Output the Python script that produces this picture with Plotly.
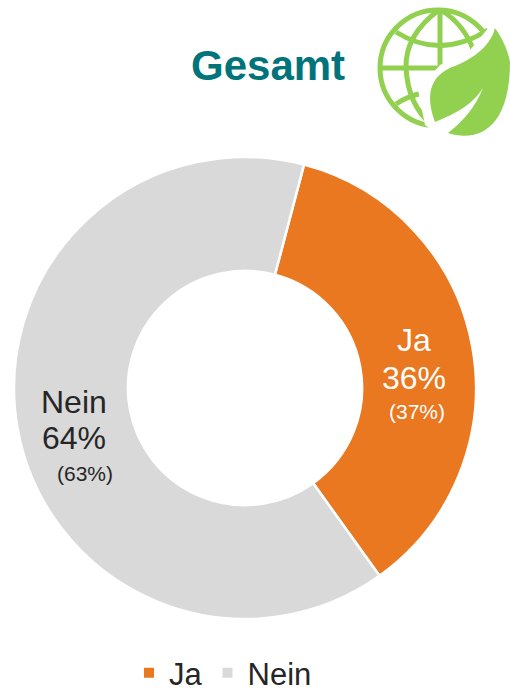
import plotly.graph_objects as go

W, H = 510, 691
categories = ["Ja", "Nein"]
values = [36, 64]
prior_labels = ["(37%)", "(63%)"]
colors = ["#E97820", "#D9D9D9"]
title_text = "Gesamt"
FONT = "Liberation Sans, Arial, sans-serif"
GREEN = "#92D050"


def px(x):
    return x / W


def py(y):
    return 1 - y / H


def path(cmds):
    out = []
    for c in cmds:
        if isinstance(c, str):
            out.append(c)
        else:
            out.append(f"{px(c[0]):.5f},{py(c[1]):.5f}")
    return " ".join(out)


fig = go.Figure()
cx, cy, r = 245, 388, 231
fig.add_trace(go.Pie(
    labels=categories, values=values, sort=False, direction="clockwise",
    rotation=14.8, hole=0.507,
    marker=dict(colors=colors, line=dict(color="#FFFFFF", width=2.5)),
    textinfo="none", hoverinfo="label+percent",
    domain=dict(x=[px(cx - r), px(cx + r)], y=[py(cy + r), py(cy - r)]),
))

shapes = []
GL = dict(color=GREEN, width=5)
# globe outline and grid
shapes.append(dict(type="circle", xref="paper", yref="paper", x0=px(380), x1=px(496), y0=py(126), y1=py(10),
                   line=GL, fillcolor="rgba(0,0,0,0)"))
for cmds in [
    ["M", (440, 10), "L", (440, 68), "L", (380, 68)],
    ["M", (439, 10), "Q", (405, 35), (406, 68), "Q", (408, 105), (432, 125)],
    ["M", (441, 10), "Q", (465, 25), (474, 52)],
    ["M", (396, 32), "Q", (440, 60), (488, 30)],
    ["M", (396, 104), "Q", (408, 96), (423, 93)],
]:
    shapes.append(dict(type="path", xref="paper", yref="paper", path=path(cmds), line=GL))
# white gap around the leaf, then leaf body, then white vein
leaf = ["M", (495, 28), "C", (490, 48), (470, 60), (455, 66), "C", (432, 74), (424, 92), (435, 122),
        "C", (465, 110), (475, 100), (483, 88), "C", (475, 108), (462, 122), (448, 133),
        "C", (475, 142), (510, 132), (510, 62), "C", (508, 50), (502, 38), (495, 28), "Z"]
halo = ["M", (495, 20), "L", (510, 60), "L", (510, 137), "L", (440, 137), "L", (425, 125), "L", (418, 90),
        "L", (440, 65), "L", (470, 50), "Z"]
shapes.append(dict(type="path", xref="paper", yref="paper", path=path(halo), fillcolor="#FFFFFF",
                   line=dict(width=0)))
shapes.append(dict(type="path", xref="paper", yref="paper", path=path(leaf), fillcolor=GREEN,
                   line=dict(width=0)))


def label(x, y, text, size, color):
    return dict(x=px(x), y=py(y), xref="paper", yref="paper", text=text, showarrow=False,
                font=dict(family=FONT, size=size, color=color), xanchor="center", yanchor="middle")


annotations = [
    dict(x=px(267.5), y=py(65), xref="paper", yref="paper", text=f"<b>{title_text}</b>", showarrow=False,
         font=dict(family=FONT, size=42, color="#00747A"), xanchor="center", yanchor="middle"),
    label(414, 340, categories[0], 32, "#FFFFFF"),
    label(414, 378, f"{values[0]}%", 32, "#FFFFFF"),
    label(417, 411, prior_labels[0], 21, "#FFFFFF"),
    label(74, 402, categories[1], 32, "#262626"),
    label(74, 438, f"{values[1]}%", 32, "#262626"),
    label(85, 473, prior_labels[1], 21, "#262626"),
]

fig.update_layout(
    width=W, height=H, margin=dict(l=0, r=0, t=0, b=0, autoexpand=False), paper_bgcolor="#FFFFFF",
    showlegend=True,
    legend=dict(orientation="h", x=px(223), xanchor="center", y=py(700), yanchor="bottom",
                font=dict(family=FONT, size=31, color="#262626"), itemsizing="constant",
                borderwidth=0, tracegroupgap=0),
    shapes=shapes, annotations=annotations,
)
fig.write_html("out.html", config=dict(displayModeBar=False),
               post_script="document.body.style.margin='0';document.body.style.overflow='hidden';")
